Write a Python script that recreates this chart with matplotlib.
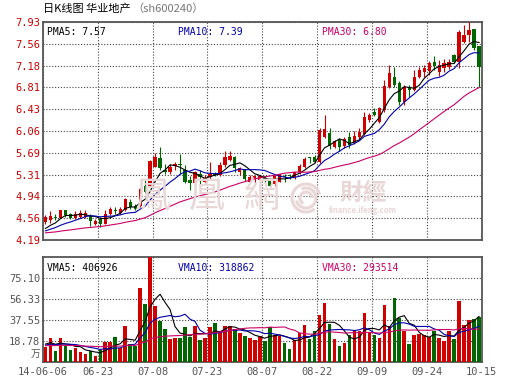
import numpy as np
import pandas as pd
import matplotlib
matplotlib.use('Agg')
import matplotlib.pyplot as plt
from matplotlib.patches import Arc

plt.rcParams['font.family'] = ['Noto Sans CJK SC', 'DejaVu Sans']

# daily prices, 2014-06-06 .. 2014-10-15 (88 trading days)
opens = [4.50, 4.53, 4.58, 4.57, 4.70, 4.63, 4.57, 4.58, 4.59, 4.60,
         4.46, 4.55, 4.47, 4.64, 4.71, 4.66, 4.71, 4.85, 4.77, 4.78,
         5.12, 5.12, 5.45, 5.59, 5.39, 5.35, 5.46, 5.48, 5.39, 5.22,
         5.16, 5.33, 5.19, 5.27, 5.31, 5.31, 5.47, 5.57, 5.61, 5.36,
         5.40, 5.19, 5.24, 5.22, 5.28, 5.22, 5.15, 5.19, 5.29, 5.30,
         5.27, 5.35, 5.44, 5.60, 5.61, 5.53, 5.96, 6.03, 5.78, 5.91,
         5.81, 5.96, 5.85, 5.95, 6.01, 6.25, 6.39, 6.22, 6.42, 6.82,
         6.99, 6.88, 6.55, 6.79, 6.76, 6.99, 7.08, 7.09, 7.25, 7.08,
         7.14, 7.16, 7.36, 7.25, 7.59, 7.70, 7.81, 7.51]
highs = [4.62, 4.69, 4.63, 4.71, 4.71, 4.66, 4.69, 4.70, 4.70, 4.63,
         4.55, 4.59, 4.70, 4.75, 4.75, 4.75, 4.91, 4.89, 4.80, 5.08,
         5.23, 5.56, 5.69, 5.78, 5.50, 5.50, 5.53, 5.66, 5.48, 5.28,
         5.38, 5.39, 5.31, 5.52, 5.36, 5.52, 5.72, 5.72, 5.63, 5.45,
         5.41, 5.31, 5.31, 5.30, 5.29, 5.25, 5.31, 5.33, 5.32, 5.33,
         5.36, 5.49, 5.61, 5.62, 5.65, 6.11, 6.33, 6.11, 5.91, 5.94,
         5.95, 6.05, 6.06, 6.11, 6.39, 6.37, 6.45, 6.48, 6.94, 7.19,
         7.16, 6.91, 6.85, 6.85, 7.11, 7.15, 7.19, 7.26, 7.34, 7.28,
         7.29, 7.30, 7.38, 7.79, 7.88, 7.93, 7.81, 7.51]
lows = [4.47, 4.49, 4.53, 4.56, 4.59, 4.55, 4.55, 4.56, 4.57, 4.43,
        4.45, 4.42, 4.46, 4.62, 4.63, 4.64, 4.69, 4.72, 4.70, 4.75,
        4.99, 5.10, 5.44, 5.39, 5.33, 5.33, 5.39, 5.33, 5.16, 5.04,
        5.13, 5.13, 5.16, 5.22, 5.28, 5.29, 5.45, 5.55, 5.35, 5.31,
        5.20, 5.16, 5.16, 5.19, 5.16, 5.06, 5.12, 5.19, 5.19, 5.24,
        5.23, 5.32, 5.42, 5.51, 5.51, 5.51, 5.94, 5.75, 5.76, 5.71,
        5.76, 5.76, 5.83, 5.90, 5.99, 6.22, 6.31, 6.19, 6.39, 6.79,
        6.82, 6.51, 6.50, 6.65, 6.74, 6.97, 6.99, 7.02, 7.11, 7.00,
        7.08, 7.12, 7.23, 7.14, 7.57, 7.59, 7.45, 6.82]
closes = [4.58, 4.60, 4.56, 4.70, 4.62, 4.57, 4.63, 4.65, 4.65, 4.51,
          4.52, 4.47, 4.64, 4.72, 4.69, 4.72, 4.89, 4.76, 4.72, 5.06,
          5.02, 5.55, 5.61, 5.43, 5.35, 5.45, 5.49, 5.47, 5.19, 5.16,
          5.36, 5.27, 5.26, 5.33, 5.30, 5.48, 5.61, 5.63, 5.42, 5.43,
          5.23, 5.27, 5.28, 5.28, 5.20, 5.12, 5.28, 5.32, 5.27, 5.28,
          5.35, 5.46, 5.58, 5.59, 5.53, 6.07, 6.09, 5.80, 5.88, 5.78,
          5.93, 5.82, 5.97, 6.04, 6.30, 6.33, 6.33, 6.45, 6.83, 7.05,
          6.85, 6.55, 6.82, 6.76, 6.99, 7.10, 7.14, 7.22, 7.18, 7.19,
          7.22, 7.25, 7.25, 7.76, 7.70, 7.79, 7.48, 7.16]
# volume in 10k lots (万手)
volumes = [13.3, 21.4, 9.7, 21.4, 14.2, 10.6, 12.7, 8.8, 6.7, 9.7,
           5.5, 10.3, 18.0, 18.0, 22.3, 12.1, 32.1, 15.7, 14.2, 66.5,
           52.1, 98.0, 50.1, 36.6, 29.7, 20.2, 21.1, 21.2, 31.2, 22.2,
           32.2, 19.2, 21.2, 31.2, 34.8, 27.6, 31.9, 31.9, 29.4, 26.1,
           23.2, 21.2, 19.3, 23.2, 18.7, 31.2, 24.1, 23.2, 17.2, 11.8,
           19.2, 26.2, 33.0, 20.7, 27.6, 42.0, 53.0, 34.2, 20.0, 14.0,
           17.0, 24.4, 27.3, 28.0, 43.8, 26.0, 23.8, 21.3, 50.7, 31.8,
           57.2, 39.3, 28.0, 16.0, 23.8, 24.9, 23.8, 21.9, 28.0, 20.9,
           18.5, 28.0, 20.0, 54.5, 33.0, 37.5, 38.5, 40.0]
# estimated closes / volumes before the window (only feed the moving averages)
prev_closes = [4.36, 4.33, 4.30, 4.28, 4.27, 4.28, 4.30, 4.31, 4.29, 4.27,
               4.26, 4.28, 4.29, 4.30, 4.31, 4.29, 4.28, 4.30, 4.32, 4.31,
               4.30, 4.29, 4.31, 4.30, 4.32, 4.33, 4.35, 4.34, 4.34]
prev_volumes = [15, 13, 12, 16, 14, 13, 15, 17, 12, 14, 16, 13, 12, 15, 14,
                13, 16, 15, 12, 14, 13, 15, 16, 14, 12, 15, 17, 16, 18]

price_labels = ['4.19', '4.56', '4.94', '5.31', '5.69', '6.06',
                '6.43', '6.81', '7.18', '7.56', '7.93']
vol_labels = ['18.78', '37.55', '56.33', '75.10']
date_labels = ['14-06-06', '06-23', '07-08', '07-23', '08-07',
               '08-22', '09-09', '09-24', '10-15']
pma_text = ['PMA5: 7.57', 'PMA10: 7.39', 'PMA30: 6.80']
vma_text = ['VMA5: 406926', 'VMA10: 318862', 'VMA30: 293514']

RED = '#d00000'
GREEN = '#006600'
BLUE = '#0000aa'
PINK = '#cc0066'
FRAME = '#555555'
GRID = '#444444'

n = len(closes)
x = np.arange(n)
o = np.array(opens); c = np.array(closes)
cols = np.where(c >= o, RED, GREEN)

allc = pd.Series(prev_closes + closes)
allv = pd.Series(prev_volumes + volumes)
k = len(prev_closes)
pma = [allc.rolling(m, min_periods=1).mean().values[k:] for m in (5, 10, 30)]
vma = [allv.rolling(m, min_periods=1).mean().values[k:] for m in (5, 10, 30)]
line_cols = ['black', BLUE, PINK]

fig = plt.figure(figsize=(5.30, 3.91), dpi=100)
ax = fig.add_axes([43 / 530, (391 - 240) / 391, 438.5 / 530, 218 / 391])
ax2 = fig.add_axes([43 / 530, (391 - 361.7) / 391, 438.5 / 530, 104.4 / 391])

grid_x = np.arange(9) * n / 8 - 0.5
mono = 'DejaVu Sans Mono'

for a in (ax, ax2):
    a.set_xlim(-0.5, n - 0.5)
    a.set_xticks(grid_x)
    for s in a.spines.values():
        s.set_color(FRAME)
        s.set_linewidth(1.3)
    a.grid(True, color=GRID, linestyle=(0, (1, 1.6)), linewidth=0.8, zorder=1)
    a.set_axisbelow(True)
    a.tick_params(length=0)

# watermark (ifeng finance logo)
wm = '#e9d6d6'
for ch, cx in zip('鳳凰網', [153, 207, 262]):
    fig.text(cx / 530, 1 - 197 / 391, ch, family=['Noto Sans CJK TC'], fontsize=26,
             color=wm, ha='center', va='center')
for r, t1, t2 in [(14, 20, 300), (10, 200, 470), (6, 0, 250)]:
    fig.patches.append(Arc((306 / 530, 1 - 198 / 391), 2 * r / 530, 2 * r / 391,
                           theta1=t1, theta2=t2, transform=fig.transFigure,
                           ec=wm, lw=2.2))
fig.text(363 / 530, 1 - 193 / 391, '財經', family=['Noto Sans CJK TC'], fontsize=17,
         fontweight='bold', color=wm, ha='center', va='center')
fig.text(363 / 530, 1 - 211 / 391, 'finance.ifeng.com', fontsize=5.5, fontweight='bold',
         color=wm, ha='center', va='center')
ax.patch.set_alpha(0)

# candles
ax.vlines(x, lows, highs, colors=cols, linewidth=0.8, zorder=3)
body = np.maximum(np.abs(c - o), 0.016)
ax.bar(x, body, bottom=np.minimum(o, c), width=0.66, color=cols, linewidth=0, zorder=4)
for ma, lc in zip(pma, line_cols):
    ax.plot(x, ma, color=lc, lw=0.8, zorder=5)
ax.set_ylim(4.19, 7.93)
ax.set_yticks(np.linspace(4.19, 7.93, 11))
ax.set_yticklabels(price_labels, family=mono, fontsize=7.5, color='#cc0000')
ax.set_xticklabels([])
ax.tick_params(pad=2)

for txt, xp, lc in zip(pma_text, [0.01, 0.308, 0.637], line_cols):
    ax.text(xp, 0.955, txt, transform=ax.transAxes, family=mono, fontsize=7,
            color=lc, va='center')

# volume
ax2.bar(x, volumes, width=0.72, color=cols, linewidth=0, zorder=3)
for ma, lc in zip(vma, line_cols):
    ax2.plot(x, ma, color=lc, lw=0.8, zorder=4)
ax2.set_ylim(0, 18.775 * 5)
ax2.set_yticks(np.arange(1, 5) * 18.775)
ax2.set_yticklabels(vol_labels, family=mono, fontsize=7.5, color='#555555')
ax2.set_xticklabels(date_labels, family=mono, fontsize=7.5, color='#555555')
ax2.tick_params(axis='y', pad=2)
ax2.tick_params(axis='x', pad=4)
ax2.text(-0.005, 0.03, '万', transform=ax2.transAxes, fontsize=7, color='#555555',
         ha='right', va='bottom')

for txt, xp, lc in zip(vma_text, [0.01, 0.308, 0.637], line_cols):
    ax2.text(xp, 0.9, txt, transform=ax2.transAxes, family=mono, fontsize=7,
             color=lc, va='center')

# title
t1 = fig.text(43 / 530, 1 - 9 / 391, '日K线图 华业地产', fontsize=8, color='black', va='center')
fig.canvas.draw()
bb = t1.get_window_extent()
fig.text(bb.x1 / 530 + 0.004, 1 - 9 / 391, '（sh600240）', fontsize=8, color='#777777',
         va='center')

fig.savefig('out.png', dpi=100)
